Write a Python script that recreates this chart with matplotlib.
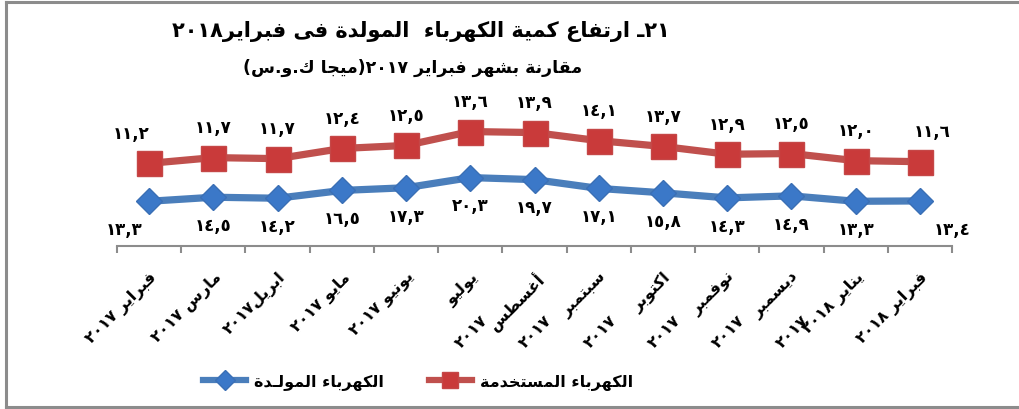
import re
import numpy as np
import matplotlib
matplotlib.use("Agg")
import matplotlib.pyplot as plt
from matplotlib.lines import Line2D

# -----------------------------
# data (mega kWh)
# -----------------------------
months = ["فبراير ٢٠١٧", "مارس ٢٠١٧", "ابريل٢٠١٧", "مايو ٢٠١٧", "يونيو ٢٠١٧",
          "يوليو", "أغسطس", "سبتمبر", "اكتوبر", "نوفمبر", "ديسمبر",
          "يناير ٢٠١٨", "فبراير ٢٠١٨"]
wrapped_years = ["", "", "", "", "", "٢٠١٧", "٢٠١٧", "٢٠١٧", "٢٠١٧", "٢٠١٧", "٢٠١٧", "", ""]
generated = [13.3, 14.5, 14.2, 16.5, 17.3, 20.3, 19.7, 17.1, 15.8, 14.3, 14.9, 13.3, 13.4]
used = [11.2, 11.7, 11.7, 12.4, 12.5, 13.6, 13.9, 14.1, 13.7, 12.9, 12.5, 12.0, 11.6]

title1 = "٢١ـ ارتفاع كمية الكهرباء  المولدة فى فبراير٢٠١٨"
title2 = "مقارنة بشهر فبراير ٢٠١٧(ميجا ك.و.س)"
legend_gen = "الكهرباء المولـدة"
legend_used = "الكهرباء المستخدمة"

# -----------------------------
# tiny arabic shaper (matplotlib has no text shaping)
# -----------------------------
DUAL = {'ئ': 0xFE89, 'ب': 0xFE8F, 'ت': 0xFE95, 'ث': 0xFE99, 'ج': 0xFE9D, 'ح': 0xFEA1,
        'خ': 0xFEA5, 'س': 0xFEB1, 'ش': 0xFEB5, 'ص': 0xFEB9, 'ض': 0xFEBD, 'ط': 0xFEC1,
        'ظ': 0xFEC5, 'ع': 0xFEC9, 'غ': 0xFECD, 'ف': 0xFED1, 'ق': 0xFED5, 'ك': 0xFED9,
        'ل': 0xFEDD, 'م': 0xFEE1, 'ن': 0xFEE5, 'ه': 0xFEE9, 'ي': 0xFEF1}
RIGHT = {'آ': 0xFE81, 'أ': 0xFE83, 'ؤ': 0xFE85, 'إ': 0xFE87, 'ا': 0xFE8D, 'ة': 0xFE93,
         'د': 0xFEA9, 'ذ': 0xFEAB, 'ر': 0xFEAD, 'ز': 0xFEAF, 'و': 0xFEED, 'ى': 0xFEEF}
LAMALEF = {'آ': 0xFEF5, 'أ': 0xFEF7, 'إ': 0xFEF9, 'ا': 0xFEFB}
TATWEEL = 'ـ'


def joins_next(c):
    return c in DUAL or c == TATWEEL


def joins_prev(c):
    return c in DUAL or c in RIGHT or c == TATWEEL


def shape(word):
    out = []
    i, n = 0, len(word)
    while i < n:
        c = word[i]
        p = i > 0 and joins_next(word[i - 1]) and joins_prev(c)
        if c == 'ل' and i + 1 < n and word[i + 1] in LAMALEF:
            out.append(chr(LAMALEF[word[i + 1]] + (1 if p else 0)))
            i += 2
            continue
        nx = i + 1 < n and joins_next(c) and joins_prev(word[i + 1])
        if c in DUAL:
            out.append(chr(DUAL[c] + {(False, False): 0, (True, False): 1,
                                      (False, True): 2, (True, True): 3}[(p, nx)]))
        elif c in RIGHT:
            out.append(chr(RIGHT[c] + (1 if p else 0)))
        elif c == 'ء':
            out.append(chr(0xFE80))
        else:
            out.append(c)
        i += 1
    return ''.join(out)[::-1]


TOKEN = re.compile(r'[\u0621-\u064A]+|[\u0660-\u0669]+(?:[.,][\u0660-\u0669]+)*|\s+|.')
MIRROR = {'(': ')', ')': '('}


def rtl(text):
    toks = TOKEN.findall(text)[::-1]
    return ''.join(shape(t) if re.match(r'[\u0621-\u064A]', t) else MIRROR.get(t, t) for t in toks)


AR_DIGITS = str.maketrans("0123456789.", "٠١٢٣٤٥٦٧٨٩,")


def ar_num(v):
    return f"{v:.1f}".translate(AR_DIGITS)


# -----------------------------
# plot
# -----------------------------
plt.rcParams['font.family'] = ['DejaVu Sans']
W, H = 1019, 410
fig = plt.figure(figsize=(W / 100, H / 100), dpi=100)
ax = fig.add_axes([117 / W, 1 - 247.3 / H, 835 / W, 135.4 / H])

x = np.arange(len(months))
gen = np.array(generated)
stacked = gen + np.array(used)  # stacked line chart

RED_LINE, RED_MK = '#C0504D', '#C93A3A'
BLUE_LINE, BLUE_MK = '#4A7EBB', '#3B78C8'

ax.plot(x, stacked, color=RED_LINE, lw=5.2, marker='s', ms=18,
        mfc=RED_MK, mec='#C54747', mew=1.0, zorder=3, solid_capstyle='butt')
ax.plot(x, gen, color=BLUE_LINE, lw=5.2, marker='D', ms=13,
        mfc=BLUE_MK, mec='#3A6FB5', mew=1.0, zorder=3, solid_capstyle='butt')

lab_font = dict(fontsize=12, fontweight='bold', color='black', ha='center', va='center')
n = len(x)
for i in range(n):
    dx_r = -13 if i == 0 else (9 if i == n - 1 else 0)
    dx_b = -18 if i == 0 else (23 if i == n - 1 else 0)
    ax.annotate(ar_num(used[i]), (x[i], stacked[i]), xytext=(dx_r, 22),
                textcoords='offset points', **lab_font)
    ax.annotate(ar_num(generated[i]), (x[i], gen[i]), xytext=(dx_b, -20),
                textcoords='offset points', **lab_font)

ax.set_xlim(-0.5, n - 0.5)
ax.set_ylim(0, 40)
for s in ['left', 'right', 'top']:
    ax.spines[s].set_visible(False)
ax.spines['bottom'].set_color('#8C8C8C')
ax.spines['bottom'].set_linewidth(1.5)
ax.set_yticks([])

# category boundaries get the tick marks, centres get the labels
ax.set_xticks(np.arange(-0.5, n, 1.0), minor=True)
ax.tick_params(axis='x', which='minor', length=5, width=1.5, color='#8C8C8C')
ax.set_xticks(x, [rtl(m) for m in months])
ax.tick_params(axis='x', which='major', length=0, pad=16)
for lbl in ax.get_xticklabels():
    lbl.set_rotation(45)
    lbl.set_ha('right')
    lbl.set_va('top')
    lbl.set_rotation_mode('anchor')
    lbl.set_fontsize(11.5)
    lbl.set_fontweight('bold')

for i, yr in enumerate(wrapped_years):
    if yr:
        ax.annotate(yr, (x[i], 0), xycoords=('data', 'axes fraction'),
                    xytext=(7, -47), textcoords='offset points', rotation=45,
                    ha='right', va='top', rotation_mode='anchor',
                    fontsize=11.5, fontweight='bold')

# title (two lines)
fig.text(421 / W, 1 - 31 / H, rtl(title1), ha='center', va='center',
         fontsize=15, fontweight='bold')
fig.text(413 / W, 1 - 68 / H, rtl(title2), ha='center', va='center',
         fontsize=12.5, fontweight='bold')

# legend
handles = [Line2D([], [], color=BLUE_LINE, lw=4.5, marker='D', ms=10, mfc=BLUE_MK, mec='#3A6FB5'),
           Line2D([], [], color=RED_LINE, lw=4.5, marker='s', ms=12, mfc=RED_MK, mec='#C54747')]
fig.legend(handles, [rtl(legend_gen), rtl(legend_used)], loc='center',
           bbox_to_anchor=(418 / W, 1 - 383 / H), ncol=2, frameon=False,
           prop={'size': 11.5, 'weight': 'bold'}, handlelength=2.7,
           columnspacing=2.8, handletextpad=0.5)

# chart frame
frame_c = '#8C8C8C'
fig.add_artist(Line2D([6 / W, 6 / W], [1 - 3 / H, 1 - 408 / H], color=frame_c, lw=2.2))
fig.add_artist(Line2D([6 / W, 1.0], [1 - 3 / H, 1 - 3 / H], color=frame_c, lw=2.2))
fig.add_artist(Line2D([6 / W, 1.0], [1 - 408 / H, 1 - 408 / H], color=frame_c, lw=2.2))

fig.savefig("out.png", dpi=100)
